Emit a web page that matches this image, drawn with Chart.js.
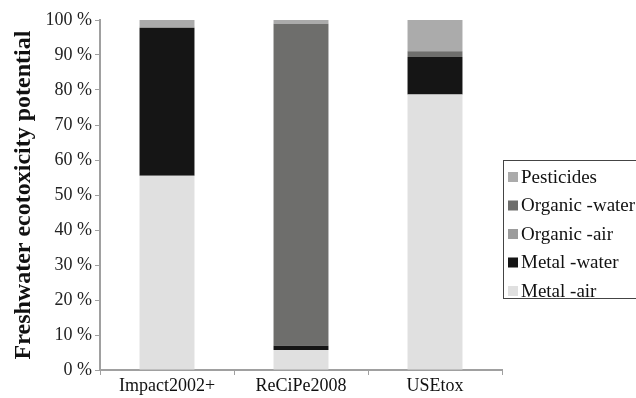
<!DOCTYPE html>
<html>
<head>
<meta charset="utf-8">
<script src="https://cdn.jsdelivr.net/npm/chart.js@4"></script>
<style>
  html, body { margin: 0; padding: 0; background: #fff; }
  #wrap { width: 636px; height: 398px; }
</style>
</head>
<body>
<div id="wrap"><canvas id="myChart" width="636" height="398"></canvas></div>
<script>
// categories and series (percent of total)
var categorias = ['Impact2002+', 'ReCiPe2008', 'USEtox'];
var metalAir = [55.5, 5.7, 78.7];
var metalWater = [42.2, 1.2, 10.7];
var organicAir = [0.1, 0.0, 0.0];
var organicWater = [0.3, 92.0, 1.7];
var pesticides = [1.9, 1.1, 8.9];
var yTicks = [0, 10, 20, 30, 40, 50, 60, 70, 80, 90, 100];

var fonte = '"Liberation Serif", "Times New Roman", serif';

// legenda desenhada a mao, com caixa
const legendaCaixa = {
    id: 'legendaCaixa',
    afterDraw(chart) {
        const ctx = chart.ctx;
        const ds = chart.data.datasets;
        const x0 = 503, y0 = 160, y1 = 298;
        ctx.save();
        ctx.strokeStyle = '#444';
        ctx.lineWidth = 1;
        ctx.strokeRect(x0 + 0.5, y0 + 0.5, 200, y1 - y0);
        ctx.font = '19px ' + fonte;
        ctx.textBaseline = 'middle';
        const passo = 28.5;
        for (let i = 0; i < ds.length; i++) {
            const d = ds[ds.length - 1 - i];
            const y = y0 + 17 + i * passo;
            ctx.fillStyle = d.backgroundColor;
            ctx.fillRect(x0 + 5, y - 5, 10, 10);
            ctx.fillStyle = '#111';
            ctx.fillText(d.label, x0 + 18, y + 1);
        }
        ctx.restore();
    }
};

let chartData = {
    labels: categorias,
    datasets: [
        { label: 'Metal -air', data: metalAir, backgroundColor: '#e0e0e0' },
        { label: 'Metal -water', data: metalWater, backgroundColor: '#151515' },
        { label: 'Organic -air', data: organicAir, backgroundColor: '#9c9c9c' },
        { label: 'Organic -water', data: organicWater, backgroundColor: '#6e6e6c' },
        { label: 'Pesticides', data: pesticides, backgroundColor: '#ababab' }
    ]
};

const config = {
    type: 'bar',
    data: chartData,
    plugins: [legendaCaixa],
    options: {
        responsive: false,
        animation: false,
        layout: { padding: { left: 0, right: 134, top: 20, bottom: 0 } },
        datasets: { bar: { categoryPercentage: 1, barPercentage: 0.41, borderWidth: 0 } },
        plugins: { legend: { display: false }, tooltip: { enabled: false } },
        scales: {
            x: {
                stacked: true,
                grid: { drawOnChartArea: false, offset: true, tickLength: 5, color: '#a0a0a0' },
                border: { color: '#a0a0a0', width: 2 },
                ticks: { color: '#111', font: { family: fonte, size: 18 }, padding: 0, maxRotation: 0 },
                afterFit(s) { s.height = 28; }
            },
            y: {
                stacked: true,
                min: 0,
                max: 100,
                afterBuildTicks(s) { s.ticks = yTicks.map(v => ({ value: v })); },
                grid: { drawOnChartArea: false, tickLength: 5, color: '#a0a0a0' },
                border: { color: '#a0a0a0', width: 2 },
                ticks: {
                    color: '#222',
                    font: { family: fonte, size: 18 },
                    padding: 3,
                    callback: v => v + ' %'
                },
                title: {
                    display: true,
                    text: 'Freshwater ecotoxicity potential',
                    color: '#111',
                    font: { family: fonte, size: 24, weight: 'bold' },
                    padding: { top: 9, bottom: 0 }
                },
                afterFit(s) { s.width = 100; }
            }
        }
    }
};

let myChart = new Chart(document.getElementById('myChart'), config);
</script>
</body>
</html>
